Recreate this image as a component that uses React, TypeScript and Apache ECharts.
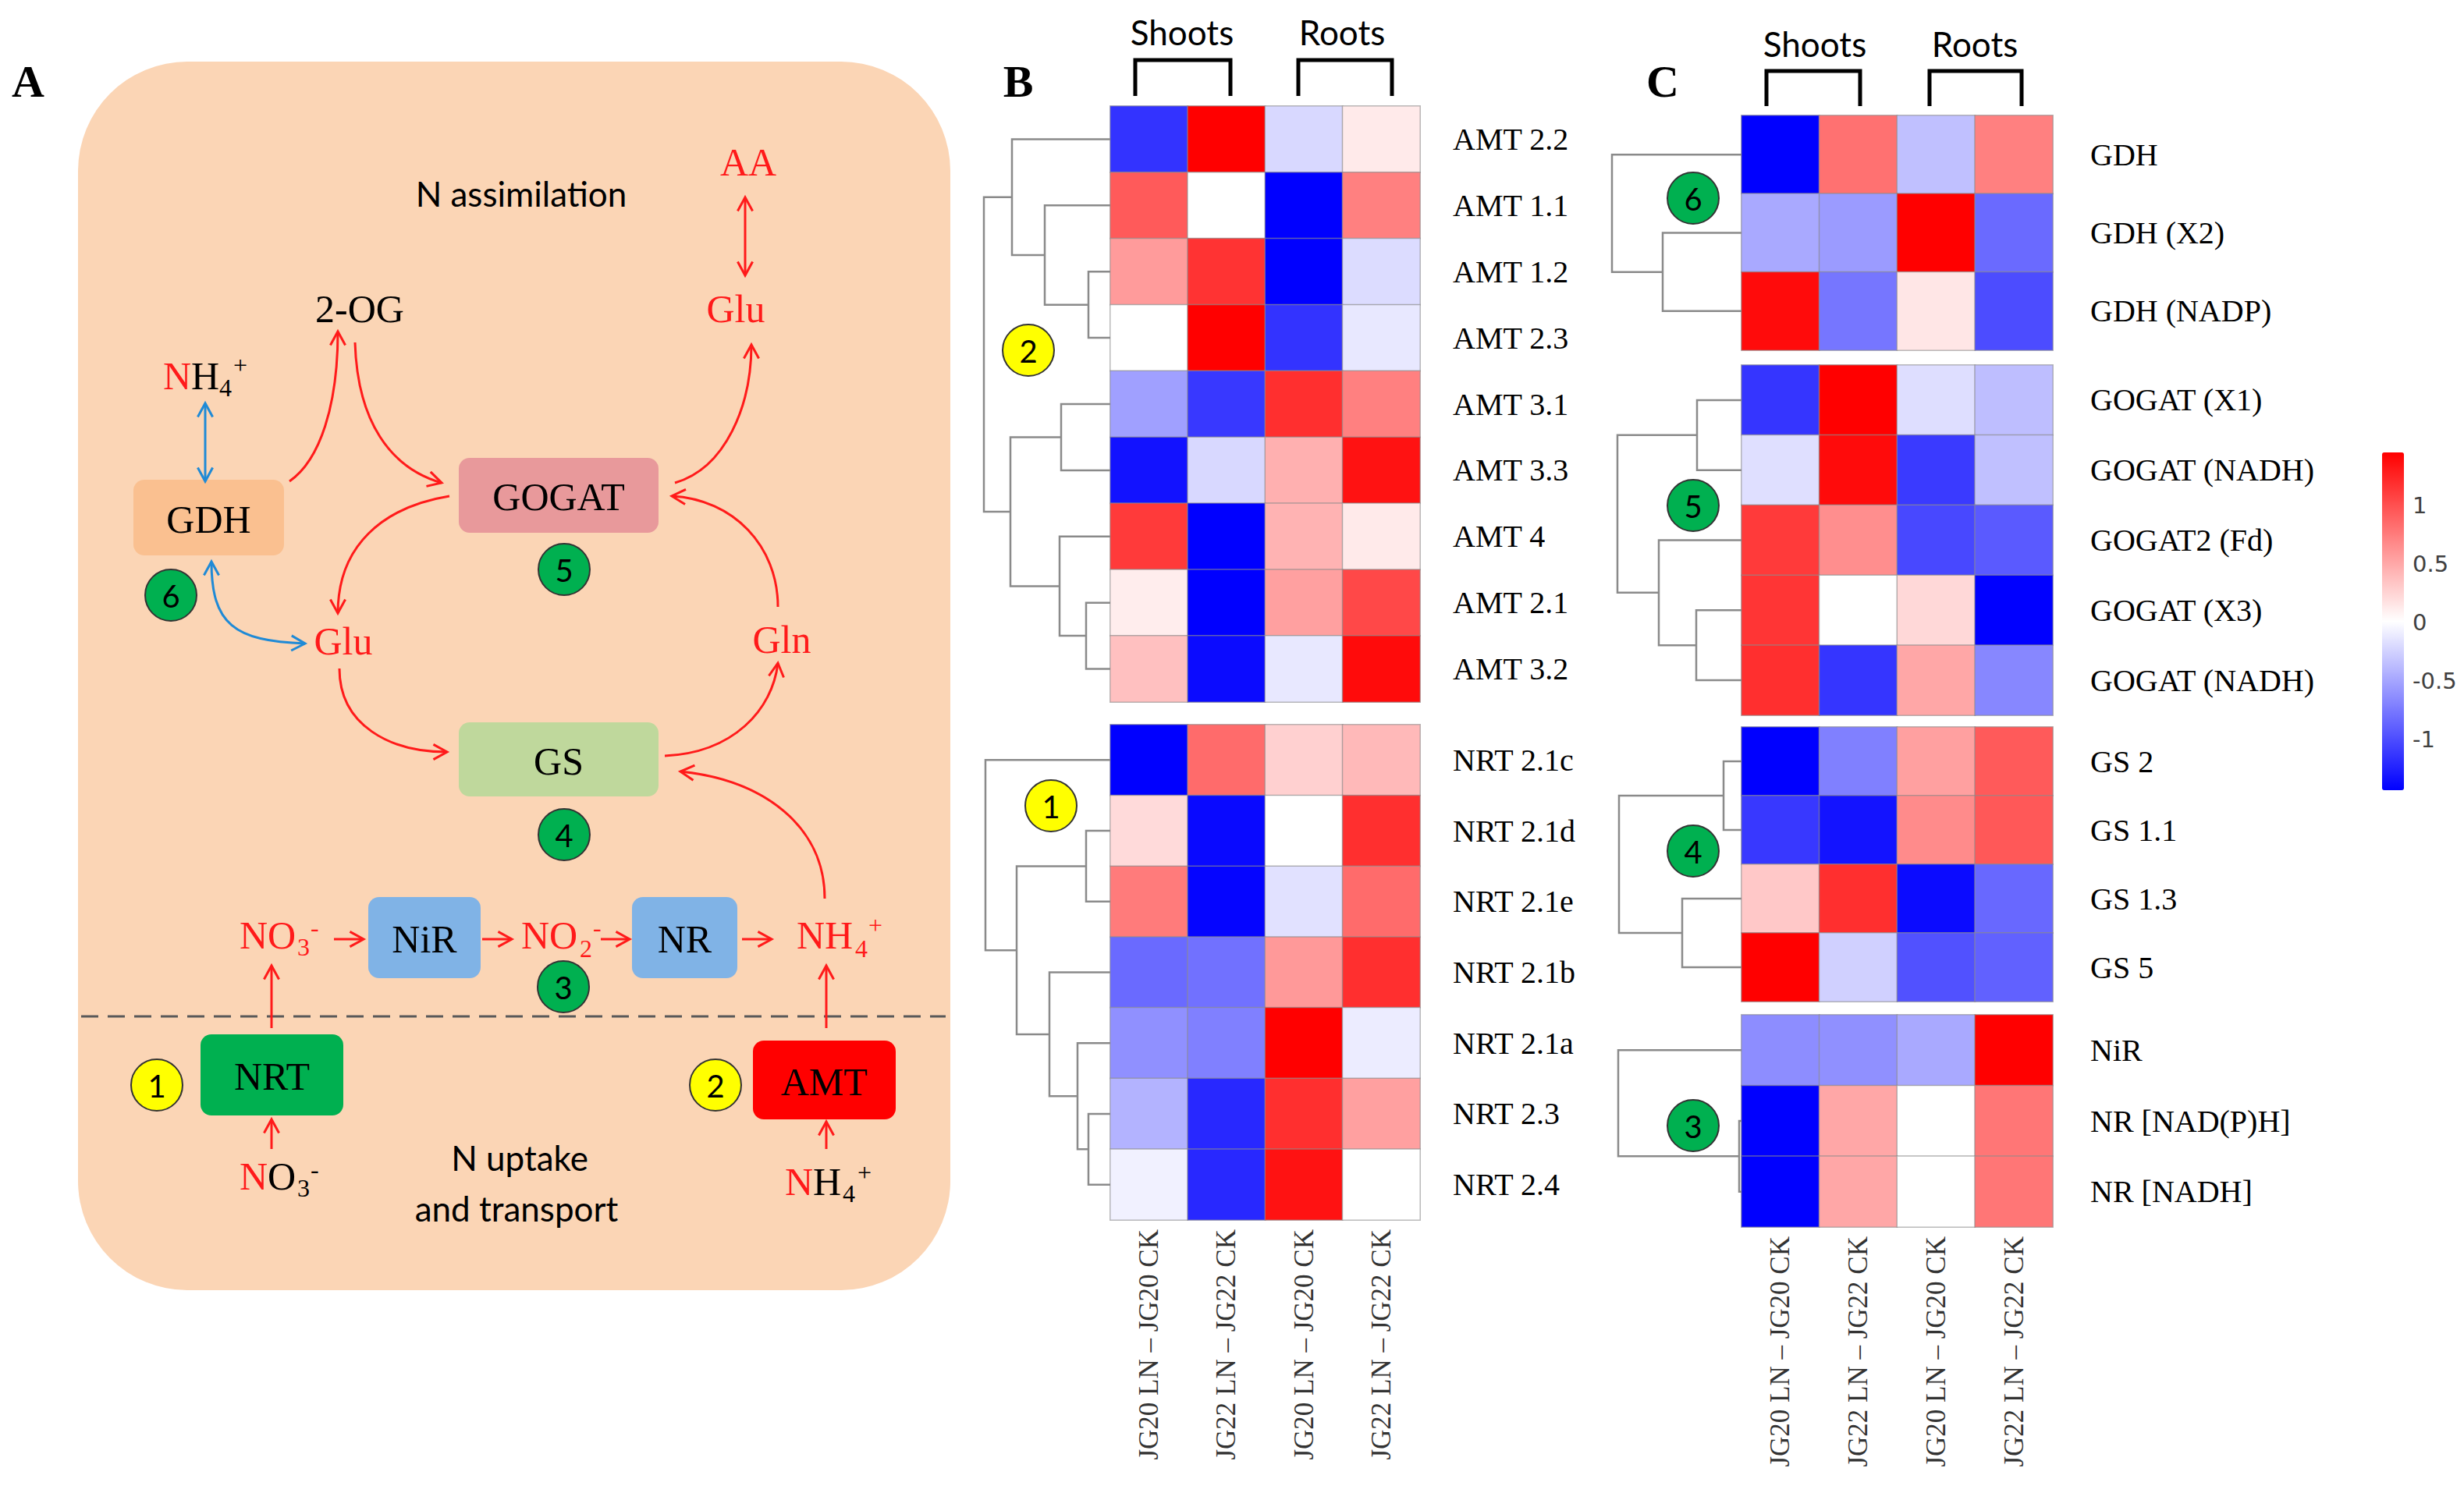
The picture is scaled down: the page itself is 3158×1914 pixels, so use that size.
import React, { useEffect, useRef } from 'react';
import * as echarts from 'echarts';

// ---------------- DATA ----------------
const columns = ['JG20 LN – JG20 CK', 'JG22 LN – JG22 CK', 'JG20 LN – JG20 CK', 'JG22 LN – JG22 CK'];

const amtGenes = ['AMT 2.2', 'AMT 1.1', 'AMT 1.2', 'AMT 2.3', 'AMT 3.1', 'AMT 3.3', 'AMT 4', 'AMT 2.1', 'AMT 3.2'];
const amtValues = [
  [-1.16, 1.45, -0.22, 0.12],
  [0.94, 0, -1.45, 0.72],
  [0.57, 1.16, -1.45, -0.2],
  [0, 1.45, -1.16, -0.13],
  [-0.54, -1.13, 1.18, 0.72],
  [-1.35, -0.22, 0.45, 1.35],
  [1.12, -1.45, 0.43, 0.12],
  [0.1, -1.45, 0.54, 1.04],
  [0.36, -1.39, -0.13, 1.39],
];
const amtTree = [[2, 3, 2.8], [1, 9, 8.4], [0, 10, 12.6], [4, 5, 6.3], [7, 8, 3.1], [6, 13, 6.5], [12, 14, 12.8], [11, 15, 16.2]];

const nrtGenes = ['NRT 2.1c', 'NRT 2.1d', 'NRT 2.1e', 'NRT 2.1b', 'NRT 2.1a', 'NRT 2.3', 'NRT 2.4'];
const nrtValues = [
  [-1.45, 0.84, 0.27, 0.4],
  [0.21, -1.4, 0, 1.18],
  [0.75, -1.42, -0.17, 0.84],
  [-0.85, -0.81, 0.58, 1.18],
  [-0.63, -0.72, 1.45, -0.11],
  [-0.43, -1.22, 1.18, 0.54],
  [-0.08, -1.22, 1.35, 0],
];
const nrtTree = [[1, 2, 3.1], [5, 6, 2.8], [4, 8, 4.2], [3, 9, 7.8], [7, 10, 12.0], [0, 11, 16.0]];

const gdhGenes = ['GDH', 'GDH (X2)', 'GDH (NADP)'];
const gdhValues = [
  [-1.45, 0.81, -0.36, 0.72],
  [-0.49, -0.57, 1.45, -0.85],
  [1.39, -0.78, 0.14, -1.02],
];
const gdhTree = [[1, 2, 10.1], [0, 3, 16.6]];

const gogatGenes = ['GOGAT (X1)', 'GOGAT (NADH)', 'GOGAT2 (Fd)', 'GOGAT (X3)', 'GOGAT (NADH)'];
const gogatValues = [
  [-1.15, 1.45, -0.19, -0.37],
  [-0.18, 1.39, -1.12, -0.36],
  [1.12, 0.64, -1.04, -0.94],
  [1.15, 0, 0.22, -1.45],
  [1.18, -1.15, 0.5, -0.68],
];
const gogatTree = [[0, 1, 5.7], [3, 4, 5.8], [2, 6, 10.6], [5, 7, 15.9]];

const gsGenes = ['GS 2', 'GS 1.1', 'GS 1.3', 'GS 5'];
const gsValues = [
  [-1.45, -0.72, 0.54, 0.94],
  [-1.13, -1.34, 0.66, 0.95],
  [0.31, 1.18, -1.39, -0.86],
  [1.45, -0.27, -0.99, -0.9],
];
const gsTree = [[0, 1, 2.3], [2, 3, 7.6], [4, 5, 15.7]];

const nGenes = ['NiR', 'NR [NAD(P)H]', 'NR [NADH]'];
const nValues = [
  [-0.65, -0.63, -0.49, 1.45],
  [-1.45, 0.5, 0, 0.78],
  [-1.45, 0.5, 0, 0.78],
];
const nTree = [[1, 2, 0.3], [0, 3, 15.8]];

const colorbarTicks = [-1, -0.5, 0, 0.5, 1];

// ---------------- STYLE / LAYOUT ----------------
const SERIF = '"Liberation Serif", "Times New Roman", serif';
const SANS = 'Lato, "Open Sans", sans-serif';

const blocks = [
  { genes: amtGenes, values: amtValues, tree: amtTree, left: 1423, width: 397, top: 136, height: 764, labelMargin: 42, bottom: false },
  { genes: nrtGenes, values: nrtValues, tree: nrtTree, left: 1423, width: 397, top: 929, height: 635, labelMargin: 42, bottom: true },
  { genes: gdhGenes, values: gdhValues, tree: gdhTree, left: 2232, width: 399, top: 148, height: 301, labelMargin: 48, bottom: false },
  { genes: gogatGenes, values: gogatValues, tree: gogatTree, left: 2232, width: 399, top: 468, height: 449, labelMargin: 48, bottom: false },
  { genes: gsGenes, values: gsValues, tree: gsTree, left: 2232, width: 399, top: 932, height: 352, labelMargin: 48, bottom: false },
  { genes: nGenes, values: nValues, tree: nTree, left: 2232, width: 399, top: 1301, height: 272, labelMargin: 48, bottom: true },
];

function dendroSegments(n: number, merges: number[][]) {
  const pos: { y: number; h: number }[] = [];
  for (let i = 0; i < n; i++) pos.push({ y: i, h: 0 });
  const segs: number[][] = [];
  merges.forEach(([a, b, h]) => {
    const A = pos[a];
    const B = pos[b];
    segs.push([A.h, A.y, B.h, B.y, h]);
    pos.push({ y: (A.y + B.y) / 2, h });
  });
  return segs;
}

const RED = '#FF1A1A';
const BLUE = '#1F8AD6';

function T(text: string, x: number, y: number, size: number, color = '#000', family = SERIF, align = 'center', weight = 'normal') {
  return {
    type: 'text', x, y, z: 10,
    style: { text, fill: color, font: `${weight} ${size}px ${family}`, align, verticalAlign: 'middle', textAlign: align, textVerticalAlign: 'middle' },
  };
}
function head(x: number, y: number, ang: number, color: string) {
  const L = 20, a = 0.5;
  return {
    type: 'polyline', z: 5,
    shape: { points: [[x - L * Math.cos(ang - a), y - L * Math.sin(ang - a)], [x, y], [x - L * Math.cos(ang + a), y - L * Math.sin(ang + a)]] },
    style: { stroke: color, lineWidth: 3, fill: null },
  };
}
function curve(p0: number[], c1: number[], c2: number[], p1: number[], color: string, both = false) {
  const els: any[] = [{
    type: 'bezierCurve', z: 5,
    shape: { x1: p0[0], y1: p0[1], cpx1: c1[0], cpy1: c1[1], cpx2: c2[0], cpy2: c2[1], x2: p1[0], y2: p1[1] },
    style: { stroke: color, lineWidth: 3, fill: null },
  }];
  els.push(head(p1[0], p1[1], Math.atan2(p1[1] - c2[1], p1[0] - c2[0]), color));
  if (both) els.push(head(p0[0], p0[1], Math.atan2(p0[1] - c1[1], p0[0] - c1[0]), color));
  return els;
}
function arrow(p0: number[], p1: number[], color: string, both = false) {
  const els: any[] = [{ type: 'line', z: 5, shape: { x1: p0[0], y1: p0[1], x2: p1[0], y2: p1[1] }, style: { stroke: color, lineWidth: 3 } }];
  els.push(head(p1[0], p1[1], Math.atan2(p1[1] - p0[1], p1[0] - p0[0]), color));
  if (both) els.push(head(p0[0], p0[1], Math.atan2(p0[1] - p1[1], p0[0] - p1[0]), color));
  return els;
}
function box(x: number, y: number, w: number, h: number, fill: string, label: string) {
  return [
    { type: 'rect', z: 3, shape: { x, y, width: w, height: h, r: 14 }, style: { fill } },
    T(label, x + w / 2, y + h / 2 + 2, 50),
  ];
}
function badge(cx: number, cy: number, num: string, yellow: boolean) {
  return [
    { type: 'ellipse', z: 6, shape: { cx, cy, rx: 33, ry: 33 }, style: { fill: yellow ? '#FFFF00' : '#00B050', stroke: '#333', lineWidth: 2 } },
    T(num, cx, cy + 1, 40, '#000', SANS),
  ];
}
function formula(x: number, y: number, main2: string, sub: string, sup: string) {
  return [
    T('N', x, y, 50, RED, SERIF, 'left'),
    T(main2, x + 36, y, 50, '#000', SERIF, 'left'),
    T(sub, x + 72, y + 15, 32, '#000', SERIF, 'left'),
    T(sup, x + 90, y - 14, 32, '#000', SERIF, 'left'),
  ];
}
function bracket(x1: number, x2: number, y1: number, y2: number) {
  return { type: 'polyline', z: 5, shape: { points: [[x1, y2], [x1, y1], [x2, y1], [x2, y2]] }, style: { stroke: '#000', lineWidth: 5, fill: null } };
}

function buildGraphic() {
  const els: any[] = [];
  // Panel A
  els.push({ type: 'rect', z: 1, shape: { x: 100, y: 79, width: 1118, height: 1575, r: 140 }, style: { fill: '#FBD5B5' } });
  els.push(T('A', 36, 104, 58, '#000', SERIF, 'center', 'bold'));
  els.push(T('N assimilation', 668, 248, 44, '#000', SANS));
  els.push(T('N uptake', 666, 1484, 44, '#000', SANS));
  els.push(T('and transport', 662, 1549, 44, '#000', SANS));
  els.push(...box(171, 615, 193, 97, '#FAC090', 'GDH'));
  els.push(...box(588, 587, 256, 96, '#E8999B', 'GOGAT'));
  els.push(...box(588, 926, 256, 95, '#BFD89C', 'GS'));
  els.push(...box(472, 1150, 144, 104, '#80B3E6', 'NiR'));
  els.push(...box(810, 1150, 135, 104, '#80B3E6', 'NR'));
  els.push(...box(257, 1326, 183, 104, '#00B050', 'NRT'));
  els.push(...box(965, 1334, 183, 101, '#FF0000', 'AMT'));
  els.push(T('AA', 959, 208, 50, RED));
  els.push(T('Glu', 943, 396, 50, RED));
  els.push(T('2-OG', 461, 396, 50, '#000'));
  els.push(T('Glu', 440, 822, 50, RED));
  els.push(T('Gln', 1002, 820, 50, RED));
  els.push(...formula(209, 482, 'H', '4', '+'));
  // NO3- top
  els.push(T('N', 307, 1199, 50, RED, SERIF, 'left'), T('O', 343, 1199, 50, RED, SERIF, 'left'),
    T('3', 381, 1214, 32, RED, SERIF, 'left'), T('-', 398, 1189, 32, RED, SERIF, 'left'));
  // NO2-
  els.push(T('N', 668, 1199, 50, RED, SERIF, 'left'), T('O', 704, 1199, 50, RED, SERIF, 'left'),
    T('2', 743, 1216, 32, RED, SERIF, 'left'), T('-', 760, 1189, 32, RED, SERIF, 'left'));
  // NH4+ right
  els.push(T('N', 1021, 1199, 50, RED, SERIF, 'left'), T('H', 1057, 1199, 50, RED, SERIF, 'left'),
    T('4', 1096, 1216, 32, RED, SERIF, 'left'), T('+', 1113, 1186, 32, RED, SERIF, 'left'));
  // NO3- bottom
  els.push(T('N', 307, 1508, 50, RED, SERIF, 'left'), T('O', 343, 1508, 50, '#000', SERIF, 'left'),
    T('3', 381, 1523, 32, '#000', SERIF, 'left'), T('-', 398, 1499, 32, '#000', SERIF, 'left'));
  // NH4+ bottom
  els.push(T('N', 1006, 1515, 50, RED, SERIF, 'left'), T('H', 1042, 1515, 50, '#000', SERIF, 'left'),
    T('4', 1080, 1530, 32, '#000', SERIF, 'left'), T('+', 1099, 1503, 32, '#000', SERIF, 'left'));

  els.push(...badge(219, 763, '6', false));
  els.push(...badge(723, 730, '5', false));
  els.push(...badge(723, 1070, '4', false));
  els.push(...badge(722, 1265, '3', false));
  els.push(...badge(201, 1391, '1', true));
  els.push(...badge(917, 1391, '2', true));

  // arrows
  els.push(...arrow([955, 353], [955, 253], RED, true));
  els.push(...arrow([263, 617], [263, 517], BLUE, true));
  els.push(...curve([371, 617], [410, 590], [433, 520], [433, 425], RED));
  els.push(...curve([455, 439], [458, 540], [500, 600], [566, 619], RED));
  els.push(...curve([865, 619], [930, 600], [963, 520], [963, 442], RED));
  els.push(...curve([576, 636], [490, 650], [433, 700], [433, 786], RED));
  els.push(...curve([997, 778], [997, 700], [940, 640], [861, 636], RED));
  els.push(...curve([271, 720], [271, 800], [300, 822], [391, 825], BLUE, true));
  els.push(...curve([435, 857], [435, 930], [500, 964], [573, 964], RED));
  els.push(...curve([852, 969], [940, 965], [990, 910], [997, 850], RED));
  els.push(...curve([1057, 1152], [1057, 1060], [980, 1000], [872, 989], RED));
  els.push(...arrow([428, 1204], [466, 1204], RED));
  els.push(...arrow([618, 1204], [656, 1204], RED));
  els.push(...arrow([770, 1204], [807, 1204], RED));
  els.push(...arrow([951, 1204], [989, 1204], RED));
  els.push(...arrow([348, 1318], [348, 1238], RED));
  els.push(...arrow([348, 1473], [348, 1435], RED));
  els.push(...arrow([1059, 1318], [1059, 1238], RED));
  els.push(...arrow([1059, 1473], [1059, 1438], RED));
  els.push({ type: 'line', z: 4, shape: { x1: 104, y1: 1303, x2: 1212, y2: 1303 }, style: { stroke: '#595959', lineWidth: 3, lineDash: [22, 12] } });

  // Panel B & C annotations
  els.push(T('B', 1305, 104, 58, '#000', SERIF, 'center', 'bold'));
  els.push(T('C', 2131, 104, 58, '#000', SERIF, 'center', 'bold'));
  els.push(T('Shoots', 1515, 41, 44, '#000', SANS), T('Roots', 1720, 41, 44, '#000', SANS));
  els.push(T('Shoots', 2326, 56, 44, '#000', SANS), T('Roots', 2531, 56, 44, '#000', SANS));
  els.push(bracket(1455, 1577, 77, 123), bracket(1664, 1784, 77, 123));
  els.push(bracket(2264, 2384, 91, 136), bracket(2473, 2591, 91, 136));
  els.push(...badge(1318, 449, '2', true));
  els.push(...badge(1347, 1033, '1', true));
  els.push(...badge(2170, 254, '6', false));
  els.push(...badge(2170, 648, '5', false));
  els.push(...badge(2170, 1091, '4', false));
  els.push(...badge(2170, 1443, '3', false));
  return els;
}

function buildOption() {
  const grid: any[] = [];
  const xAxis: any[] = [];
  const yAxis: any[] = [];
  const heatSeries: any[] = [];
  const dendroSeries: any[] = [];

  blocks.forEach((b) => {
    const gi = grid.length;
    grid.push({ left: b.left, top: b.top, width: b.width, height: b.height });
    xAxis.push({
      gridIndex: gi, type: 'category', data: columns,
      axisLine: { show: false }, axisTick: { show: false }, splitLine: { show: false },
      axisLabel: b.bottom
        ? { show: true, rotate: 90, interval: 0, margin: 12, fontFamily: SERIF, fontSize: 35, color: '#333' }
        : { show: false },
    });
    yAxis.push({
      gridIndex: gi, type: 'category', data: b.genes, inverse: true, position: 'right',
      axisLine: { show: false }, axisTick: { show: false }, splitLine: { show: false },
      axisLabel: { interval: 0, margin: b.labelMargin, fontFamily: SERIF, fontSize: 40, color: '#000' },
    });
    const data: number[][] = [];
    b.values.forEach((row, r) => row.forEach((v, c) => data.push([c, r, v])));
    heatSeries.push({
      type: 'heatmap', xAxisIndex: gi, yAxisIndex: gi, data,
      itemStyle: { borderColor: 'rgba(140,140,140,0.6)', borderWidth: 1.5 },
      emphasis: { disabled: true }, silent: true,
    });

    const di = grid.length;
    grid.push({ left: b.left - 170, top: b.top, width: 170, height: b.height });
    xAxis.push({ gridIndex: di, type: 'value', min: 0, max: 17, inverse: true, show: false });
    yAxis.push({ gridIndex: di, type: 'value', min: -0.5, max: b.genes.length - 0.5, inverse: true, show: false });
    dendroSeries.push({
      type: 'custom', xAxisIndex: di, yAxisIndex: di, silent: true, clip: false,
      encode: { x: [0, 2, 4], y: [1, 3] },
      data: dendroSegments(b.genes.length, b.tree),
      renderItem: (params: any, api: any) => {
        const p1 = api.coord([api.value(0), api.value(1)]);
        const p2 = api.coord([api.value(4), api.value(1)]);
        const p3 = api.coord([api.value(4), api.value(3)]);
        const p4 = api.coord([api.value(2), api.value(3)]);
        return { type: 'polyline', shape: { points: [p1, p2, p3, p4] }, style: { stroke: '#8a8a8a', lineWidth: 2.5, fill: null } };
      },
    });
  });

  const ci = grid.length;
  grid.push({ left: 3053, top: 572.5, width: 28, height: 450 });
  xAxis.push({ gridIndex: ci, type: 'value', show: false, min: 0, max: 1 });
  yAxis.push({
    gridIndex: ci, type: 'value', min: -1.5, max: 1.5, interval: 0.5, position: 'right',
    axisLine: { show: false }, axisTick: { show: false }, splitLine: { show: false },
    axisLabel: {
      margin: 11, fontSize: 29, color: '#404040', fontFamily: '"DejaVu Sans", sans-serif',
      formatter: (v: number) => (colorbarTicks.some((t) => Math.abs(t - v) < 1e-6) ? String(v) : ''),
    },
  });

  const heatIdx = heatSeries.map((_, i) => i);
  return {
    animation: false,
    backgroundColor: '#ffffff',
    grid, xAxis, yAxis,
    visualMap: {
      type: 'continuous', min: -1.45, max: 1.45, seriesIndex: heatIdx, calculable: false,
      inRange: { color: ['#0000FF', '#FFFFFF', '#FF0000'] },
      left: 3053, top: 580, itemWidth: 28, itemHeight: 433, padding: 0, orient: 'vertical',
      text: null, showLabel: false,
    },
    series: [...heatSeries, ...dendroSeries],
    graphic: { elements: buildGraphic() },
  };
}

export default function App() {
  const ref = useRef<HTMLDivElement>(null);
  useEffect(() => {
    document.body.style.margin = '0';
    if (!ref.current) return;
    const chart = echarts.init(ref.current, null, { renderer: 'svg' });
    chart.setOption(buildOption() as any);
    return () => chart.dispose();
  }, []);
  return <div ref={ref} style={{ width: 3158, height: 1914, background: '#fff' }} />;
}
